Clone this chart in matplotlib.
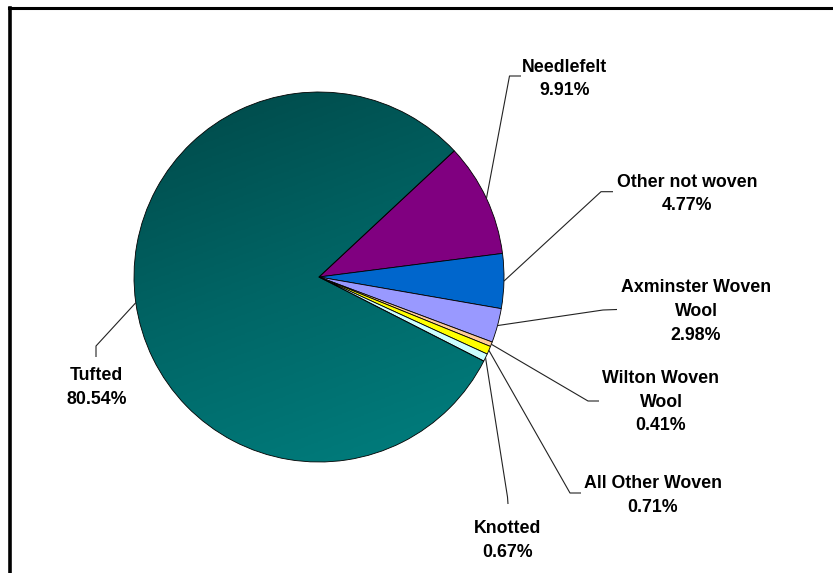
import numpy as np
import matplotlib
matplotlib.use("Agg")
import matplotlib.pyplot as plt
from matplotlib.colors import LinearSegmentedColormap

# Carpet production share by type
categories = ["Needlefelt", "Other not woven", "Axminster Woven\nWool",
              "Wilton Woven\nWool", "All Other Woven", "Knotted", "Tufted"]
shares = [9.91, 4.77, 2.98, 0.41, 0.71, 0.67, 80.54]
colors = ["#800080", "#0066CC", "#9999FF", "#FFCC99", "#FFFF00", "#CCFFFF", "#007070"]

W, H = 833, 573
fig = plt.figure(figsize=(W / 100, H / 100), dpi=100)
ax = fig.add_axes([0, 0, 1, 1])

cx, cy, R = 319, H - 277, 185
wedges, _ = ax.pie(shares, colors=colors, startangle=43, counterclock=False,
                   center=(cx, cy), radius=R,
                   wedgeprops=dict(edgecolor="black", linewidth=0.6))
ax.set_xlim(0, W)
ax.set_ylim(0, H)
ax.set_aspect("equal")
ax.axis("off")

# Shaded fill for the large slice: darker toward the upper left
big = wedges[-1]
big.set_facecolor("none")
cmap = LinearSegmentedColormap.from_list("teal", ["#004848", "#006666", "#008080"])
n = 300
gx, gy = np.meshgrid(np.linspace(-1, 1, n), np.linspace(-1, 1, n))
d = np.array([0.35, -0.94])
t = (gx * d[0] + gy * d[1])
t = (t - t.min()) / (t.max() - t.min())
img = ax.imshow(t, cmap=cmap, origin="lower",
                extent=(cx - R, cx + R, cy - R, cy + R), zorder=0.5,
                interpolation="bilinear")
img.set_clip_path(big)
ax.set_xlim(0, W)
ax.set_ylim(0, H)

# Label layout: (elbow, end of leader, text centre x, first baseline) in pixels from top-left
layout = [
    ((509.5, 76), (521, 76), 565, 71.7),
    ((601, 191.7), (613, 191.7), 687, 186.7),
    ((603, 310), (617, 309.5), 696, 292.5),
    ((588, 401), (599, 401), 661, 383),
    ((570, 493), (581, 493), 653, 488),
    ((507.5, 497), (508, 504), 508, 533),
    ((96, 346), (96, 357), 96.5, 380),
]
pitch = 23.6
for w, name, val, (elbow, end, tx, ty) in zip(wedges, categories, shares, layout):
    ang = np.deg2rad((w.theta1 + w.theta2) / 2)
    px, py = cx + R * np.cos(ang), cy + R * np.sin(ang)
    ax.plot([px, elbow[0], end[0]], [py, H - elbow[1], H - end[1]],
            color="#222222", lw=0.8, solid_capstyle="butt", zorder=3)
    lines = name.split("\n") + [f"{val:.2f}%"]
    for i, s in enumerate(lines):
        ax.text(tx, H - (ty + i * pitch), s, ha="center", va="baseline",
                fontsize=12.8, fontweight="bold", family="Liberation Sans",
                color="black", zorder=4)

# Chart frame
ax.plot([9, W + 5], [H - 8, H - 8], color="black", lw=2.2, solid_capstyle="projecting", zorder=5)
ax.plot([10.5, 10.5], [H - 8, -5], color="black", lw=2.6, solid_capstyle="projecting", zorder=5)

fig.savefig("out.png", dpi=100, facecolor="white")
